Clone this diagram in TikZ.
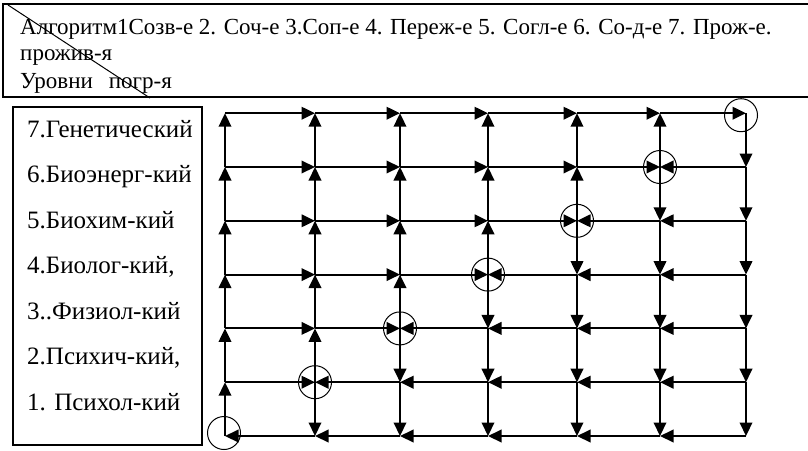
\documentclass[tikz,border=0pt]{standalone}
\usepackage{fontspec}
\setmainfont{Liberation Serif}
\usetikzlibrary{arrows.meta}

\tikzset{
  flow/.style={line width=2.1pt, -{Triangle[length=13.5pt,width=12.5pt]}},
  ring/.style={circle, draw, line width=1pt, minimum size=33pt, inner sep=0pt},
  frame/.style={line width=1.3pt},
  level/.style={anchor=base west, inner sep=0pt, font=\fontsize{25}{29}\selectfont},
  head/.style={anchor=base west, inner sep=0pt, font=\fontsize{23}{27}\selectfont},
}

\begin{document}
\begin{tikzpicture}[x=1pt, y=-1pt]
  \useasboundingbox (0,0) rectangle (808,450);
  % header box, open on the right
  \draw[frame] (808,4) -- (3,4) -- (3,97) -- (808,97);
  \coordinate (slashtop) at (8,5);
  \coordinate (slashbot) at (150,98);
  \draw[line width=1pt] (slashtop) -- (slashbot);
  \node[head] (hdr1) at (20,34) {Алгоритм1Созв-е 2. Соч-е 3.Соп-е 4. Переж-е 5. Согл-е 6. Со-д-е 7. Прож-е.};
  \node[head] (hdr2) at (20,60) {прожив-я};
  \node[head] (hdr3) at (20,88) {Уровни\hspace{16pt}погр-я};
  % box with the levels
  \draw[frame] (13,107) rectangle (202,445);
  \foreach \k/\txt in {7/{7.Генетический}, 6/{6.Биоэнерг-кий}, 5/{5.Биохим-кий},
      4/{4.Биолог-кий,}, 3/{3..Физиол-кий}, 2/{2.Психич-кий,}, 1/{1. Психол-кий}}
    \node[level] (lvl\k) at (27, {137+(7-\k)*45.5}) {\txt};
  % grid points, column c, row r (row 1 at the bottom)
  \foreach \c/\x in {1/225,2/315,3/400,4/488,5/577,6/660,7/746}
    \foreach \r in {1,...,7}
      \coordinate (p\c-\r) at (\x, {436-(\r-1)*53.8});
  % vertical arrows: up above the diagonal, down below it
  \foreach \c in {1,...,7}
    \foreach \r in {1,...,6} {
      \pgfmathtruncatemacro\rr{\r+1}
      \ifnum\r<\c
        \draw[flow] (p\c-\rr) -- (p\c-\r);
      \else
        \draw[flow] (p\c-\r) -- (p\c-\rr);
      \fi
    }
  % horizontal arrows: right above the diagonal, left below it
  \foreach \r in {1,...,7}
    \foreach \c in {1,...,6} {
      \pgfmathtruncatemacro\cc{\c+1}
      \ifnum\cc>\r
        \draw[flow] (p\cc-\r) -- (p\c-\r);
      \else
        \draw[flow] (p\c-\r) -- (p\cc-\r);
      \fi
    }
  % circles on the diagonal
  \foreach \c in {2,...,6}
    \node[ring] (ring\c) at (p\c-\c) {};
  \node[ring] (ring7) at ([shift={(-5,2)}]p7-7) {};
  \node[ring] (ring1) at ([shift={(-1,-3)}]p1-1) {};
\end{tikzpicture}
\end{document}
